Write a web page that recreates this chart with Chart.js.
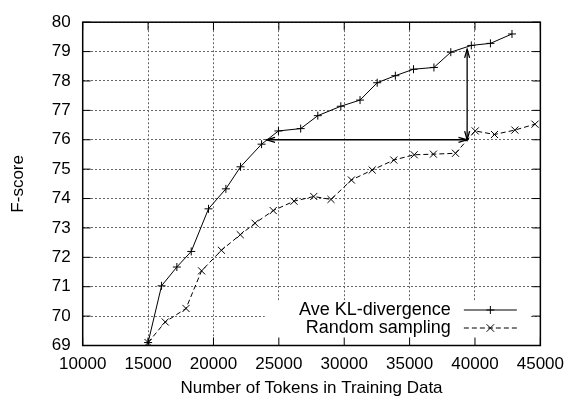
<!DOCTYPE html>
<html><head><meta charset="utf-8">
<script src="https://cdn.jsdelivr.net/npm/chart.js@4/dist/chart.umd.min.js"></script>
<style>html,body{margin:0;padding:0;background:#fff;}</style>
</head><body>
<canvas id="c" width="573" height="401"></canvas>
<script>
const seriesLabels = ['Ave KL-divergence', 'Random sampling'];
const klTokens = [15000, 16030, 17200, 18300, 19620, 20950, 22070, 23680, 24970, 26670, 27980, 29740, 31210, 32520, 33910, 35300, 36860, 38150, 39720, 41180, 42830];
const klScores = [69.1, 71.03, 71.67, 72.2, 73.65, 74.33, 75.08, 75.85, 76.3, 76.38, 76.82, 77.14, 77.35, 77.94, 78.18, 78.4, 78.46, 78.98, 79.21, 79.28, 79.6];
const rsTokens = [15000, 16310, 17900, 19090, 20610, 22050, 23180, 24570, 26160, 27670, 28990, 30550, 32140, 33790, 35350, 36820, 38510, 40020, 41490, 43050, 44590];
const rsScores = [69.1, 69.8, 70.26, 71.54, 72.24, 72.77, 73.16, 73.59, 73.91, 74.07, 73.97, 74.63, 74.97, 75.31, 75.49, 75.51, 75.54, 76.3, 76.18, 76.33, 76.53];
const xTicks = [10000, 15000, 20000, 25000, 30000, 35000, 40000, 45000];
const yTicks = [69, 70, 71, 72, 73, 74, 75, 76, 77, 78, 79, 80];
const xTitle = 'Number of Tokens in Training Data';
const yTitle = 'F-score';
// annotation arrows (data coordinates): [x1, y1, x2, y2]
const arrowH = [24050, 76.0, 39400, 76.0];
const arrowV = [39400, 76.0, 39400, 79.08];

const FONT = '"Liberation Sans", Arial, Helvetica, sans-serif';

function drawHead(ctx, x1, y1, x2, y2) {
  const ang = Math.atan2(y2 - y1, x2 - x1);
  const len = 9, spread = 0.28;
  ctx.beginPath();
  ctx.moveTo(x2 - len * Math.cos(ang - spread), y2 - len * Math.sin(ang - spread));
  ctx.lineTo(x2, y2);
  ctx.lineTo(x2 - len * Math.cos(ang + spread), y2 - len * Math.sin(ang + spread));
  ctx.stroke();
}
function drawArrow(chart, a) {
  const {ctx, scales: {x, y}} = chart;
  const x1 = x.getPixelForValue(a[0]), y1 = y.getPixelForValue(a[1]);
  const x2 = x.getPixelForValue(a[2]), y2 = y.getPixelForValue(a[3]);
  ctx.beginPath(); ctx.moveTo(x1, y1); ctx.lineTo(x2, y2); ctx.stroke();
  drawHead(ctx, x1, y1, x2, y2);
  drawHead(ctx, x2, y2, x1, y1);
}

const overlay = {
  id: 'overlay',
  beforeDatasetsDraw(chart) {
    const {ctx, chartArea: a} = chart;
    ctx.save();
    ctx.fillStyle = '#fff';
    ctx.fillRect(a.left + 182, a.bottom - 45, 266, 45);
    ctx.restore();
  },
  afterDatasetsDraw(chart) {
    const {ctx, chartArea: a, scales: {x, y}} = chart;
    ctx.save();
    ctx.strokeStyle = '#000';
    ctx.lineWidth = 1.3;
    drawArrow(chart, arrowH);
    drawArrow(chart, arrowV);
    // inward tick marks
    ctx.lineWidth = 1;
    ctx.beginPath();
    xTicks.forEach(v => {
      const px = x.getPixelForValue(v);
      ctx.moveTo(px, a.bottom); ctx.lineTo(px, a.bottom - 8);
      ctx.moveTo(px, a.top); ctx.lineTo(px, a.top + 8);
    });
    yTicks.forEach(v => {
      const py = y.getPixelForValue(v);
      ctx.moveTo(a.left, py); ctx.lineTo(a.left + 8, py);
      ctx.moveTo(a.right, py); ctx.lineTo(a.right - 8, py);
    });
    ctx.stroke();
    // border
    ctx.lineWidth = 1.5;
    ctx.strokeRect(a.left, a.top, a.right - a.left, a.bottom - a.top);
    // legend
    ctx.font = '18px ' + FONT;
    ctx.fillStyle = '#000';
    ctx.textAlign = 'right';
    ctx.textBaseline = 'middle';
    const tx = a.right - 89.5, s1 = a.right - 76.5, s2 = a.right - 23.5;
    const rows = [a.bottom - 35.5, a.bottom - 17.5];
    chart.data.datasets.forEach((ds, i) => {
      const ry = rows[i];
      ctx.fillText(ds.label, tx, ry);
      ctx.lineWidth = 1;
      ctx.setLineDash(ds.borderDash || []);
      ctx.beginPath(); ctx.moveTo(s1, ry); ctx.lineTo(s2, ry); ctx.stroke();
      ctx.setLineDash([]);
      const cx = (s1 + s2) / 2, r = ds.pointRadius;
      ctx.beginPath();
      if (ds.pointStyle === 'cross') {
        ctx.moveTo(cx - r, ry); ctx.lineTo(cx + r, ry);
        ctx.moveTo(cx, ry - r); ctx.lineTo(cx, ry + r);
      } else {
        const d = r * 0.75;
        ctx.moveTo(cx - d, ry - d); ctx.lineTo(cx + d, ry + d);
        ctx.moveTo(cx - d, ry + d); ctx.lineTo(cx + d, ry - d);
      }
      ctx.stroke();
    });
    ctx.restore();
  }
};

const tickFont = {family: FONT, size: 17};

new Chart(document.getElementById('c'), {
  type: 'line',
  data: {
    datasets: [
      {
        label: seriesLabels[0],
        data: klTokens.map((t, i) => ({x: t, y: klScores[i]})),
        borderColor: '#000', backgroundColor: '#000', borderWidth: 1,
        pointStyle: 'cross', pointRadius: 4, pointBorderWidth: 1, pointBorderColor: '#000',
        fill: false, tension: 0
      },
      {
        label: seriesLabels[1],
        data: rsTokens.map((t, i) => ({x: t, y: rsScores[i]})),
        borderColor: '#000', backgroundColor: '#000', borderWidth: 1, borderDash: [5, 3],
        pointStyle: 'crossRot', pointRadius: 5, pointBorderWidth: 1, pointBorderColor: '#000',
        fill: false, tension: 0
      }
    ]
  },
  options: {
    responsive: false,
    animation: false,
    devicePixelRatio: 1,
    layout: {padding: {top: 21, right: 28.5, left: 0, bottom: 0}},
    plugins: {legend: {display: false}, tooltip: {enabled: false}},
    scales: {
      x: {
        type: 'linear', min: 10000, max: 45000,
        afterBuildTicks: s => { s.ticks = xTicks.map(v => ({value: v})); },
        afterFit: s => { s.height = 55.5; },
        ticks: {color: '#000', font: tickFont, padding: 9, maxRotation: 0, autoSkip: false, callback: v => String(v)},
        grid: {color: '#666', lineWidth: 1, drawTicks: false},
        border: {display: false, dash: [2, 2]},
        title: {display: true, text: xTitle, color: '#000', font: {family: FONT, size: 17}, padding: {top: 0, bottom: 2}}
      },
      y: {
        type: 'linear', min: 69, max: 80,
        afterBuildTicks: s => { s.ticks = yTicks.map(v => ({value: v})); },
        afterFit: s => { s.width = 82.7; },
        ticks: {color: '#000', font: tickFont, padding: 12, autoSkip: false, callback: v => String(v)},
        grid: {color: '#666', lineWidth: 1, drawTicks: false},
        border: {display: false, dash: [2, 2]},
        title: {display: true, text: yTitle, color: '#000', font: {family: FONT, size: 17}, padding: {top: 8, bottom: 0}}
      }
    }
  },
  plugins: [overlay]
});
</script>
</body></html>
